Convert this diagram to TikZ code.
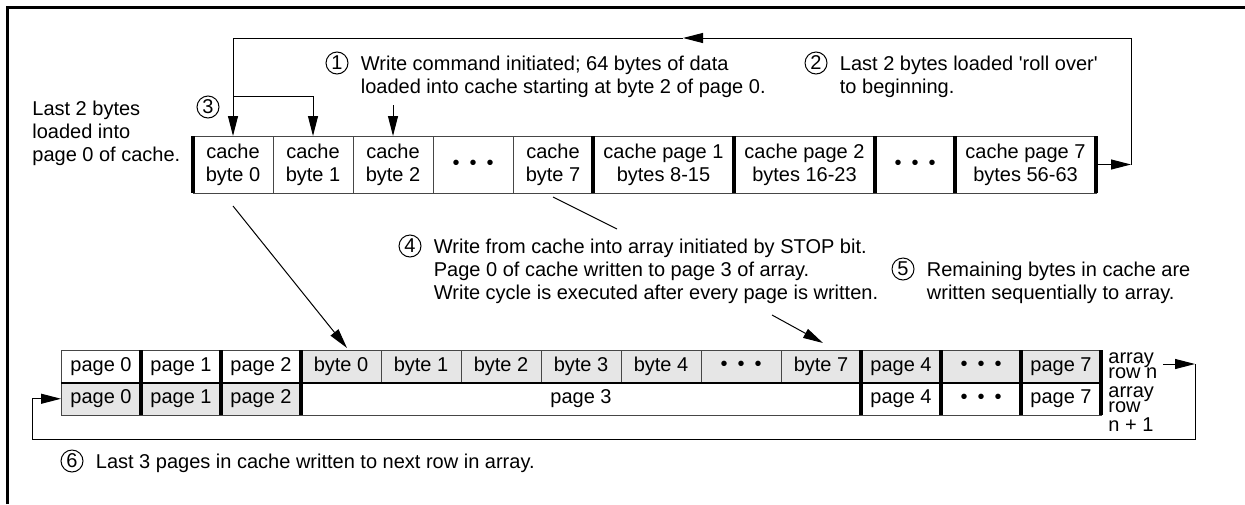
\documentclass[tikz,border=0pt]{standalone}
\usepackage{fontspec}
\setmainfont{Liberation Sans}
\usetikzlibrary{positioning, arrows.meta, calc}
\definecolor{cellgray}{RGB}{230,230,230}
\definecolor{edgegray}{RGB}{70,70,70}
\newcommand{\tdots}{\textbullet\kern5pt\textbullet\kern5pt\textbullet}
\newcommand{\notelines}[1]{\begin{tabular}[t]{@{}l@{}}#1\end{tabular}}

\tikzset{
  cell/.style={draw=edgegray, line width=0.5pt, inner sep=0pt, outer sep=0pt, align=center},
  cbyte/.style={cell, minimum width=40pt, minimum height=28.5pt},
  cpage/.style={cell, minimum width=70.5pt, minimum height=28.5pt},
  arow/.style={cell, minimum width=40pt, minimum height=16.25pt},
  shade/.style={fill=cellgray},
  sepline/.style={line width=1.7pt},
  link/.style={line width=0.5pt},
  tip/.style={link, -{Triangle[length=10pt,width=5pt]}},
  num/.style={circle, draw, line width=0.5pt, inner sep=0pt, minimum size=11pt},
  note/.style={inner sep=0pt},
}

\begin{document}
\begin{tikzpicture}[x=0.5pt, y=-0.5pt,
    every node/.style={font=\fontsize{10}{11.5}\selectfont}]
\useasboundingbox (0,0) rectangle (1245,504);
\draw[line width=1.5pt] (7,504) -- (7,7) -- (1245,7);

% cache
\node[cbyte, anchor=north west] (cb0) at (193,136) {cache\\byte 0};
\node[cbyte, right=0pt of cb0] (cb1) {cache\\byte 1};
\node[cbyte, right=0pt of cb1] (cb2) {cache\\byte 2};
\node[cbyte, right=0pt of cb2] (cbdots) {\tdots};
\node[cbyte, right=0pt of cbdots] (cb7) {cache\\byte 7};
\node[cpage, right=0pt of cb7] (cp1) {cache page 1\\bytes 8-15};
\node[cpage, right=0pt of cp1] (cp2) {cache page 2\\bytes 16-23};
\node[cbyte, right=0pt of cp2] (cpdots) {\tdots};
\node[cpage, right=0pt of cpdots] (cp7) {cache page 7\\bytes 56-63};
\draw[sepline] (cb0.north west) -- (cb0.south west);
\foreach \c in {cb7,cp1,cp2,cpdots,cp7}
  \draw[sepline] (\c.north east) -- (\c.south east);

% array row n
\node[arow, anchor=north west] (ap0) at (61,350) {page 0};
\node[arow, right=0pt of ap0] (ap1) {page 1};
\node[arow, right=0pt of ap1] (ap2) {page 2};
\node[arow, shade, right=0pt of ap2] (ab0) {byte 0};
\node[arow, shade, right=0pt of ab0] (ab1) {byte 1};
\node[arow, shade, right=0pt of ab1] (ab2) {byte 2};
\node[arow, shade, right=0pt of ab2] (ab3) {byte 3};
\node[arow, shade, right=0pt of ab3] (ab4) {byte 4};
\node[arow, shade, right=0pt of ab4] (abdots) {\tdots};
\node[arow, shade, right=0pt of abdots] (ab7) {byte 7};
\node[arow, shade, right=0pt of ab7] (ap4) {page 4};
\node[arow, shade, right=0pt of ap4] (apdots) {\tdots};
\node[arow, shade, right=0pt of apdots] (ap7) {page 7};

% array row n + 1
\node[arow, shade, below=0pt of ap0] (bp0) {page 0};
\node[arow, shade, right=0pt of bp0] (bp1) {page 1};
\node[arow, shade, right=0pt of bp1] (bp2) {page 2};
\node[arow, right=0pt of bp2, minimum width=280pt] (bp3) {page 3};
\node[arow, right=0pt of bp3] (bp4) {page 4};
\node[arow, right=0pt of bp4] (bpdots) {\tdots};
\node[arow, right=0pt of bpdots] (bp7) {page 7};
\draw[line width=1pt] (ap0.south west) -- (ap7.south east);
\foreach \c in {ap0,ap1,ap2,ab7,ap4,apdots,ap7}
  \draw[sepline] (\c.north east) -- (\c.north east |- bp0.south);

\node[note, anchor=base west, font=\fontsize{10}{7.8}\selectfont] (lrown) at (1108,363) {\notelines{array\\row n}};
\node[note, anchor=base west, font=\fontsize{10}{7.8}\selectfont] (lrownn) at (1108,397) {\notelines{array\\row\\n + 1}};

% notes
\node[num] (n1) at (337,63) {1};
\node[note, right=6pt of n1, anchor=base west, yshift=-3.6pt] (t1)
  {\notelines{Write command initiated; 64 bytes of data\\loaded into cache starting at byte 2 of page 0.}};
\node[num] (n2) at (816,63) {2};
\node[note, right=6pt of n2, anchor=base west, yshift=-3.6pt] (t2)
  {\notelines{Last 2 bytes loaded \textquotesingle roll over\textquotesingle\\to beginning.}};
\node[num] (n3) at (208,107) {3};
\node[note, anchor=base west] (t3) at (32,115) {\notelines{Last 2 bytes\\loaded into\\page 0 of cache.}};
\node[num] (n4) at (410,246) {4};
\node[note, right=6pt of n4, anchor=base west, yshift=-3.6pt] (t4)
  {\notelines{Write from cache into array initiated by STOP bit.\\Page 0 of cache written to page 3 of array.\\Write cycle is executed after every page is written.}};
\node[num] (n5) at (903,269) {5};
\node[note, right=6pt of n5, anchor=base west, yshift=-3.6pt] (t5)
  {\notelines{Remaining bytes in cache are\\written sequentially to array.}};
\node[num] (n6) at (72,461) {6};
\node[note, right=6pt of n6, anchor=base west, yshift=-3.6pt] (t6)
  {Last 3 pages in cache written to next row in array.};

% roll over loop
\coordinate (rollR) at ([xshift=17.5pt]cp7.east);
\coordinate (rollT) at (rollR |- 0,38);
\coordinate (rollM) at (683,38);
\coordinate (rollL) at (cb0.north |- rollT);
\coordinate (split) at (cb0.north |- 0,96);
\draw[tip] (cp7.east) -- (rollR);
\draw[tip] (rollR) -- (rollT) -- (rollM);
\draw[tip] (rollM) -- (rollL) -- (cb0.north);
\draw[tip] (split) -| (cb1.north);
\coordinate (start1) at (cb2.north |- 0,105);
\draw[tip] (start1) -- (cb2.north);

% cache to array
\draw[tip] ([yshift=-6.5pt]cb0.south) -- ([xshift=3pt,yshift=1pt]ab0.north);
\coordinate (end4) at (617,229);
\draw[link] ([yshift=-2pt]cb7.south) -- (end4);
\coordinate (from4) at (772,315);
\draw[tip] (from4) -- ([xshift=1pt,yshift=3.5pt]ab7.north);

% next row loop
\coordinate (rowS) at (1163,364);
\coordinate (rowR) at (1195,364);
\coordinate (rowB) at (32,439);
\draw[tip] (rowS) -- (rowR);
\draw[tip] (rowR) |- (rowB) |- (bp0.west);
\end{tikzpicture}
\end{document}
